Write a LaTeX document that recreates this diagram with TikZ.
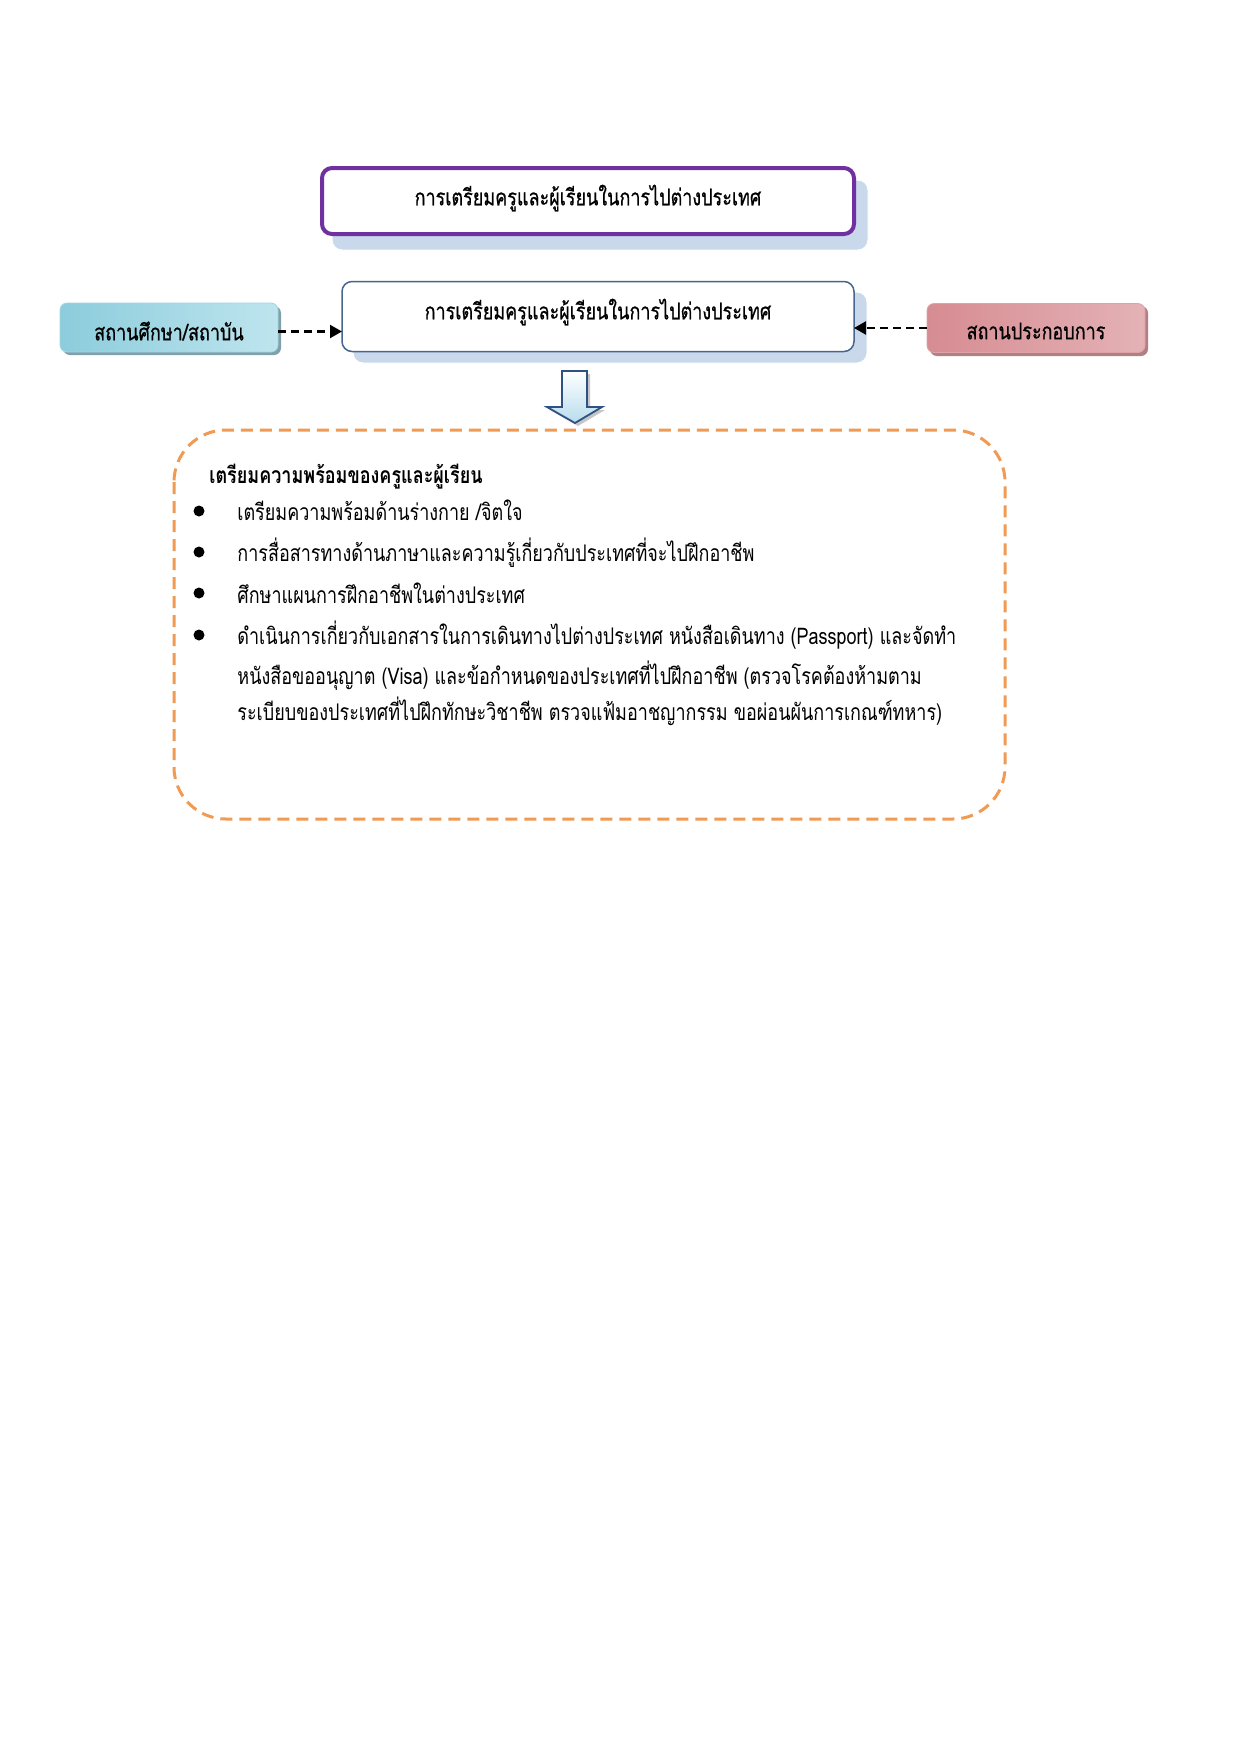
\documentclass[tikz,border=0pt]{standalone}
\usepackage{fontspec}
\newfontfamily\thai[Script=Thai, FakeStretch=0.785]{Loma}
\newfontfamily\thaibox[Script=Thai, FakeStretch=0.785, FakeBold=0.6]{Loma}
\usetikzlibrary{arrows.meta,calc}
\definecolor{purpleline}{RGB}{112,48,160}
\definecolor{mainline}{RGB}{70,102,142}
\definecolor{shadowblue}{RGB}{202,216,236}
\definecolor{cyanA}{RGB}{140,204,220}
\definecolor{cyanM}{RGB}{220,241,246}
\definecolor{cyanB}{RGB}{190,229,238}
\definecolor{cyanS}{RGB}{128,160,170}
\definecolor{redA}{RGB}{214,140,146}
\definecolor{redM}{RGB}{245,224,226}
\definecolor{redB}{RGB}{228,178,182}
\definecolor{redS}{RGB}{176,128,130}
\definecolor{dashorange}{RGB}{240,154,84}
\definecolor{arrowdark}{RGB}{47,82,130}
\definecolor{arrowfill}{RGB}{184,220,236}
\def\px{0.48pt}
\tikzset{
  boxtext/.style={font=\thaibox\fontsize{11}{13}\selectfont, text=black},
  bodytext/.style={font=\thai\fontsize{11}{13}\selectfont, text=black, anchor=base west, inner sep=0pt},
  headtext/.style={font=\thai\bfseries\fontsize{11}{13}\selectfont, text=black, anchor=base west, inner sep=0pt},
  purplebox/.style={draw=purpleline, line width=4*\px, fill=white, rounded corners=10*\px,
    minimum width=532*\px, minimum height=66*\px, inner sep=0pt, outer sep=0pt},
  mainbox/.style={draw=mainline, line width=1.5*\px, fill=white, rounded corners=10*\px,
    minimum width=512*\px, minimum height=70*\px, inner sep=0pt, outer sep=0pt},
  sidebox/.style={rounded corners=7*\px, minimum width=218*\px, minimum height=49*\px,
    inner sep=0pt, outer sep=0pt},
  shadowrect/.style={fill=shadowblue, draw=white, line width=1*\px, rounded corners=10*\px},
  conn/.style={dashed, dash pattern=on 8*\px off 5*\px, line width=2.2*\px, black,
    -{Triangle[length=12*\px,width=13*\px]}},
  bulletdot/.style={circle, fill=black, inner sep=0pt, minimum size=11*\px},
  orangebox/.style={draw=dashorange, line width=3*\px, dash pattern=on 12*\px off 7*\px,
    rounded corners=52*\px}
}
\begin{document}
\begin{tikzpicture}[x=0.48pt,y=-0.48pt]
\useasboundingbox[fill=white] (0,0) rectangle (1241,1754);

% top purple box
\fill[shadowrect] (332,180) rectangle (868,250);
\node[purplebox] (top) at (588,201) {};
\node[boxtext] (toptext) at (588,198) {การเตรียมครูและผู้เรียนในการไปต่างประเทศ};

% main box
\fill[shadowrect] (353,292) rectangle (867,363);
\node[mainbox] (main) at (598,316.5) {};
\node[boxtext] (maintext) at (598,312) {การเตรียมครูและผู้เรียนในการไปต่างประเทศ};

% left side box
\fill[cyanS, rounded corners=7*\px] (63,306) rectangle (281,355);
\node[sidebox, left color=cyanA, middle color=cyanM, right color=cyanB, draw=cyanA!80!white, line width=0.8*\px] (lbox) at (169,327.5) {};
\node[boxtext] (ltext) at (169,331) {สถานศึกษา/สถาบัน};

% right side box
\fill[redS, rounded corners=7*\px] (930,306) rectangle (1148,356);
\node[sidebox, left color=redA, middle color=redM, right color=redB, draw=redA!80!white, line width=0.8*\px] (rbox) at (1036,328) {};
\node[boxtext] (rtext) at (1036,331) {สถานประกอบการ};

% connectors
\coordinate (lstart) at ($(lbox.east)+(0,4)$);
\draw[conn] (lstart) -- (lstart -| main.west);
\draw[conn] (rbox.west) -- (rbox.west -| main.east);

% down block arrow
\fill[gray!45] (565,374) -- (590,374) -- (590,410) -- (605,410) -- (578,426) -- (550,410) -- (565,410) -- cycle;
\shade[top color=white, bottom color=arrowfill, draw=arrowdark, line width=1.8*\px, line join=miter]
  (562,371) -- (587,371) -- (587,407) -- (602,407) -- (575,423) -- (547,407) -- (562,407) -- cycle;

% dashed content box
\draw[orangebox] (174,430) rectangle (1005,819);

\node[headtext] (head) at (209,483) {เตรียมความพร้อมของครูและผู้เรียน};

\node[bulletdot] (b1) at (199,511) {};
\node[bulletdot] (b2) at (199,552) {};
\node[bulletdot] (b3) at (199,593) {};
\node[bulletdot] (b4) at (199,635) {};

\node[bodytext] (l1) at (237,520) {เตรียมความพร้อมด้านร่างกาย /จิตใจ};
\node[bodytext] (l2) at (237,561) {การสื่อสารทางด้านภาษาและความรู้เกี่ยวกับประเทศที่จะไปฝึกอาชีพ};
\node[bodytext] (l3) at (237,603) {ศึกษาแผนการฝึกอาชีพในต่างประเทศ};
\node[bodytext] (l4) at (237,644) {ดำเนินการเกี่ยวกับเอกสารในการเดินทางไปต่างประเทศ หนังสือเดินทาง (Passport) และจัดทำ};
\node[bodytext] (l5) at (237,684) {หนังสือขออนุญาต (Visa) และข้อกำหนดของประเทศที่ไปฝึกอาชีพ (ตรวจโรคต้องห้ามตาม};
\node[bodytext] (l6) at (237,720) {ระเบียบของประเทศที่ไปฝึกทักษะวิชาชีพ ตรวจแฟ้มอาชญากรรม ขอผ่อนผันการเกณฑ์ทหาร)};
\end{tikzpicture}
\end{document}
